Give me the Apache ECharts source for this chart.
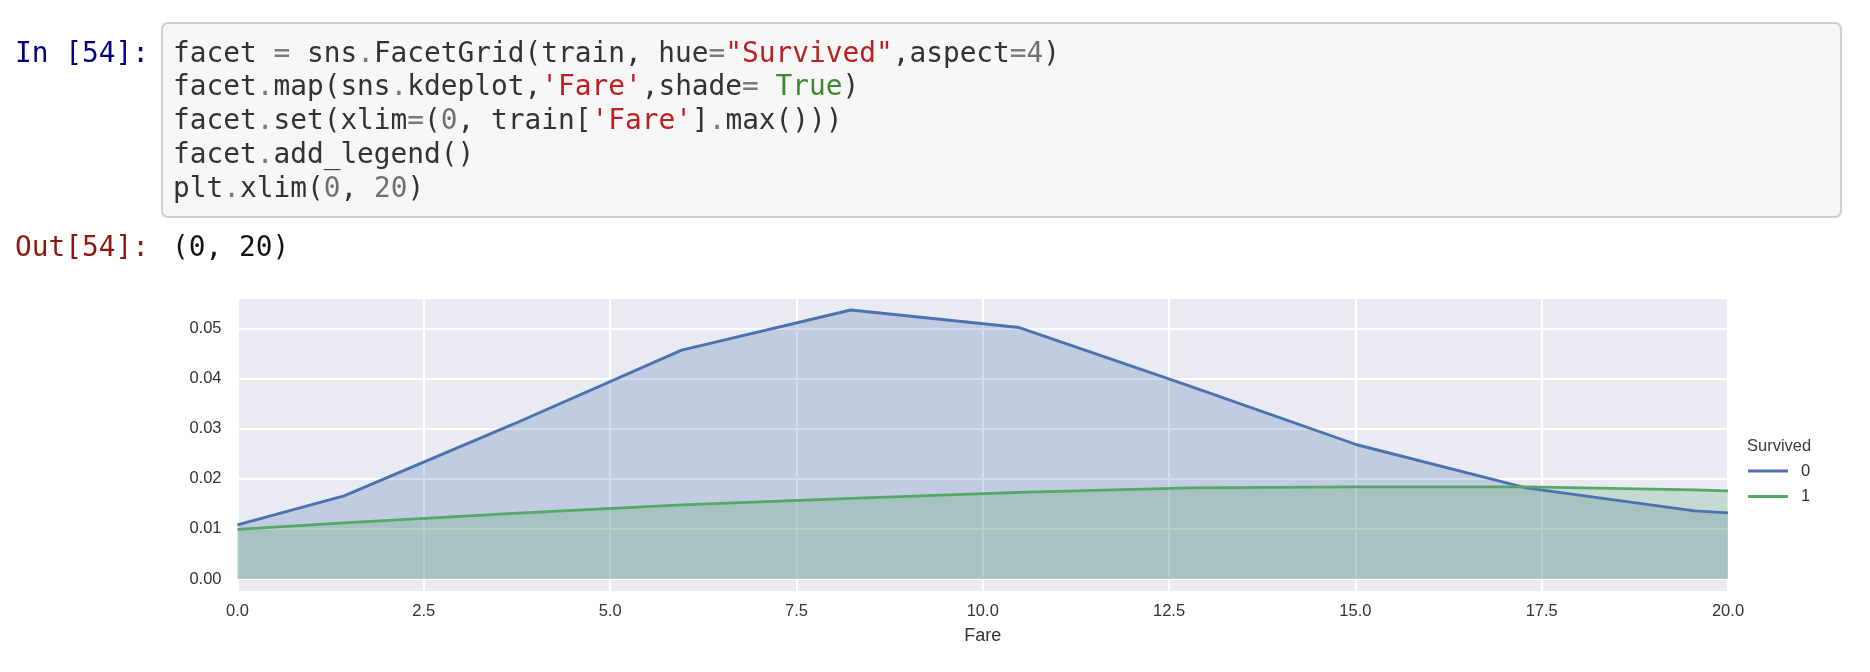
<!DOCTYPE html>
<html>
<head>
<meta charset="utf-8">
<script src="https://cdn.jsdelivr.net/npm/echarts@6/dist/echarts.min.js"></script>
<style>
html, body { margin:0; padding:0; background:#ffffff; width:1870px; height:672px; overflow:hidden; }
#chart { position:absolute; left:0; top:0; width:1870px; height:672px; z-index:1; }
.mono { position:absolute; font-family:"DejaVu Sans Mono", monospace; font-size:27.8px; line-height:33.8px; white-space:pre; z-index:2; margin:0; }
#codebox { position:absolute; left:161px; top:22px; width:1677px; height:192px; border:2px solid #cfcfcf; border-radius:7px; background:#f7f7f7; z-index:1; }
#inprompt { left:15px; top:35.5px; color:#000080; }
#outprompt { left:15px; top:230px; color:#8b1a0e; }
#code { left:173px; top:35.5px; color:#333333; }
#out { left:172px; top:230px; color:#111111; }
.op { color:#7a7a7a; }
.num { color:#707070; }
.str { color:#ba2121; }
.kw { color:#3c8a2e; }
</style>
</head>
<body>
<div id="codebox"></div>
<div class="mono" id="inprompt">In [54]:</div>
<div class="mono" id="code">facet <span class="op">=</span> sns<span class="op">.</span>FacetGrid(train, hue<span class="op">=</span><span class="str">"Survived"</span>,aspect<span class="op">=</span><span class="num">4</span>)
facet<span class="op">.</span>map(sns<span class="op">.</span>kdeplot,<span class="str">'Fare'</span>,shade<span class="op">=</span> <span class="kw">True</span>)
facet<span class="op">.</span>set(xlim<span class="op">=</span>(<span class="num">0</span>, train[<span class="str">'Fare'</span>]<span class="op">.</span>max()))
facet<span class="op">.</span>add_legend()
plt<span class="op">.</span>xlim(<span class="num">0</span>, <span class="num">20</span>)</div>
<div class="mono" id="outprompt">Out[54]:</div>
<div class="mono" id="out">(0, 20)</div>
<div id="chart"></div>
<script>
// Data (KDE of Fare, by Survived)
const fare      = [0, 1.43, 3.70, 5.96, 8.23, 10.49, 12.76, 15.02, 17.29, 19.55, 20];
const survived0 = [0.0108, 0.0166, 0.0309, 0.0457, 0.0537, 0.0502, 0.0386, 0.0268, 0.0182, 0.0136, 0.0132];
const survived1 = [0.0099, 0.0112, 0.0131, 0.0148, 0.0161, 0.0173, 0.0182, 0.0184, 0.0184, 0.0178, 0.0176];
const seriesNames = ['0', '1'];
const legendTitle = 'Survived';
const xName = 'Fare';

const pair = (xs, ys) => xs.map((x, i) => [x, ys[i]]);
const labelFont = '"Liberation Sans", Arial, sans-serif';

const chart = echarts.init(document.getElementById('chart'), null, { renderer: 'canvas' });
chart.setOption({
  animation: false,
  backgroundColor: 'transparent',
  title: {
    text: legendTitle,
    left: 1747, top: 437,
    padding: 0,
    textStyle: { fontFamily: labelFont, fontSize: 16.5, fontWeight: 'normal', color: '#3a3a3a', lineHeight: 18 }
  },
  legend: {
    orient: 'vertical',
    left: 1748, top: 461,
    padding: 0,
    itemWidth: 40, itemHeight: 3, itemGap: 5.6,
    icon: 'rect',
    data: seriesNames,
    textStyle: { fontFamily: labelFont, fontSize: 16.5, color: '#333333', lineHeight: 20, padding: [0, 0, 0, 8] }
  },
  grid: {
    left: 237.5, right: 142, top: 297.7, bottom: 80.3,
    show: true, backgroundColor: '#EAEAF2', borderWidth: 0, containLabel: false
  },
  xAxis: {
    type: 'value', min: 0, max: 20, interval: 2.5,
    name: xName, nameLocation: 'middle', nameGap: 35,
    nameTextStyle: { fontFamily: labelFont, fontSize: 18, color: '#333333' },
    axisLine: { show: false }, axisTick: { show: false },
    axisLabel: { fontFamily: labelFont, fontSize: 16.5, color: '#333333', margin: 11,
      formatter: v => v.toFixed(1) },
    splitLine: { show: true, lineStyle: { color: '#ffffff', width: 2 } }
  },
  yAxis: {
    type: 'value', min: -0.00253, max: 0.05615,
    axisLine: { show: false }, axisTick: { show: false },
    axisLabel: { fontFamily: labelFont, fontSize: 16.5, color: '#333333', margin: 16,
      showMinLabel: false, showMaxLabel: false,
      formatter: v => v.toFixed(2) },
    splitLine: { show: true, lineStyle: { color: '#ffffff', width: 2 } }
  },
  series: [
    {
      name: seriesNames[0], type: 'line', data: pair(fare, survived0),
      showSymbol: false, symbol: 'none', smooth: false, clip: true,
      color: '#4C72B0',
      lineStyle: { color: '#4C72B0', width: 2.9 },
      areaStyle: { color: '#4C72B0', opacity: 0.25 }
    },
    {
      name: seriesNames[1], type: 'line', data: pair(fare, survived1),
      showSymbol: false, symbol: 'none', smooth: false, clip: true,
      color: '#55A868',
      lineStyle: { color: '#55A868', width: 2.9 },
      areaStyle: { color: '#55A868', opacity: 0.25 }
    }
  ]
});
</script>
</body>
</html>
